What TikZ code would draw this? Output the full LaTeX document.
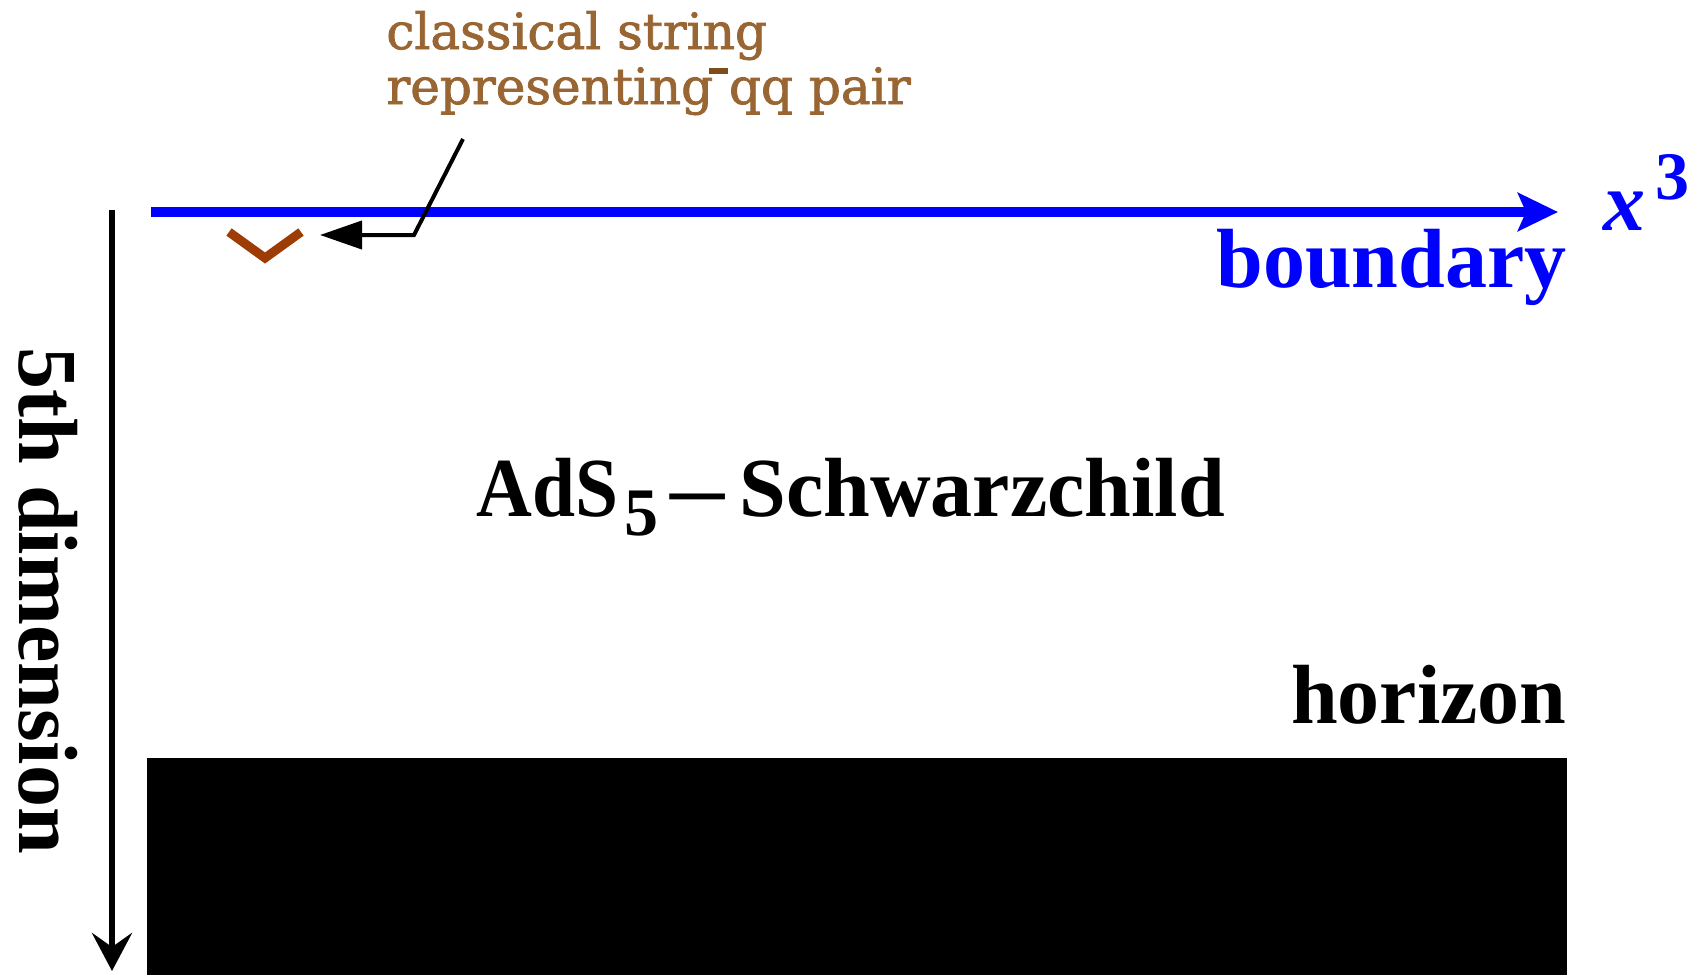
\documentclass[tikz,border=0pt]{standalone}
\usepackage{graphicx}
\usepackage{fontspec}
\setmainfont{Liberation Serif}
\newfontfamily\labelserif[BoldFont=DejaVu Serif, BoldFeatures={FakeBold=1.6}]{DejaVu Serif}
\usetikzlibrary{arrows.meta}
\definecolor{stringrust}{RGB}{158,60,5}
\definecolor{notebrown}{RGB}{153,102,51}
\definecolor{barbrown}{RGB}{128,77,26}
\tikzset{
  boldlabel/.style={font=\fontsize{42pt}{42pt}\selectfont\bfseries, inner sep=0pt},
  notelabel/.style={font=\labelserif\fontsize{25pt}{25pt}\selectfont\bfseries, text=notebrown, inner sep=0pt},
  axisline/.style={line width=5pt, draw=blue, -{Stealth[length=20pt,width=19pt,inset=4pt]}},
  depthline/.style={line width=3pt, -{Stealth[length=19pt,width=20pt,inset=7pt]}},
  callout/.style={line width=2pt, -{Triangle[length=21pt,width=14pt]}},
}
\begin{document}
\begin{tikzpicture}[x=0.5pt,y=-0.5pt]
\useasboundingbox (0,0) rectangle (1696,975);

% horizon region
\fill (147,758) rectangle (1567,975);

% boundary axis x^3
\coordinate (origin) at (151,212);
\coordinate (xend) at (1558,212);
\draw[axisline] (origin) -- (xend);
\node[boldlabel, text=blue, anchor=base east] (boundary) at (1567,287) {boundary};
\node[anchor=base west, inner sep=0pt, text=blue, font=\fontsize{42pt}{42pt}\selectfont\bfseries] (axis) at (1603,230)
  {\textit{x}\hspace{5pt}\raisebox{15.5pt}{\fontsize{34pt}{34pt}\selectfont 3}};

% fifth dimension axis
\coordinate (ztop) at (112,210);
\coordinate (zbot) at (112,971);
\draw[depthline] (ztop) -- (zbot);
\node[boldlabel, rotate=-90, anchor=base west] (fifth) at (19,347) {5th dimension};

% bulk and horizon labels
\node[anchor=base west, inner sep=0pt, font=\fontsize{42pt}{42pt}\selectfont\bfseries] (ads) at (476,516)
  {\scalebox{0.92}[1]{AdS}\hspace{3pt}\raisebox{-9.5pt}{\fontsize{34pt}{34pt}\selectfont 5}\hspace{6pt}\scalebox{1.29}[1]{–}\hspace{7.5pt}Schwarzchild};
\node[boldlabel, anchor=base east] (horizon) at (1567,723) {horizon};

% string hanging from the boundary
\draw[stringrust, line width=4.5pt] (229,232) -- (265,258) -- (301,232);
\coordinate (stringtip) at (320,235);

% note and its pointer
\node[notelabel, anchor=base west] (noteA) at (386,49) {classical string};
\node[notelabel, anchor=base west] (noteB) at (386,104) {representing qq pair};
\fill[barbrown] (709,68) rectangle (728,74);
\coordinate (calloutstart) at (463,139);
\draw[callout] (calloutstart) -- (414,235) -- (stringtip);
\end{tikzpicture}
\end{document}
